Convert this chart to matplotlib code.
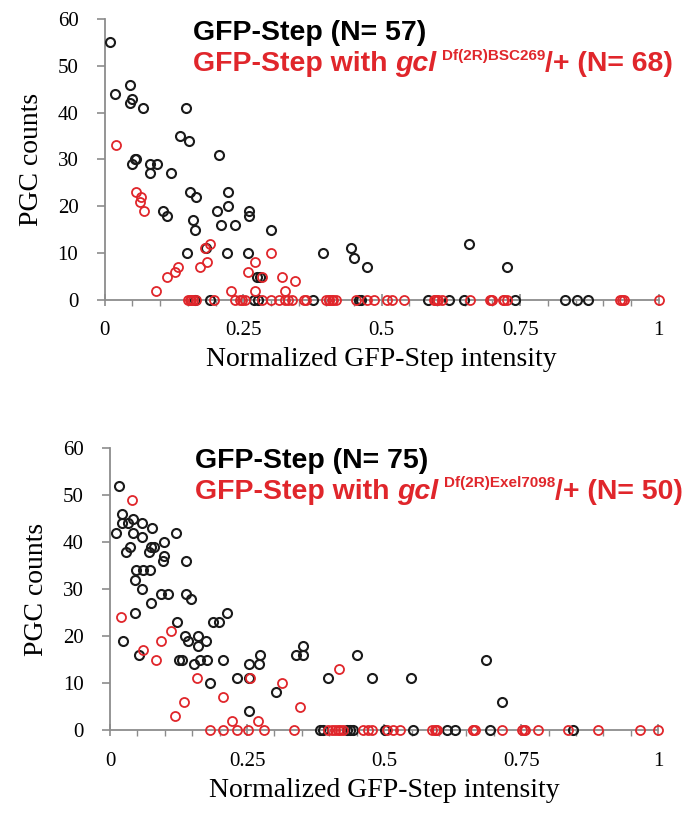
import numpy as np
import matplotlib
matplotlib.use("Agg")
import matplotlib.pyplot as plt
from matplotlib.ticker import MultipleLocator

# ---- data ----
# top panel: GFP-Step (black) and GFP-Step with gcl Df(2R)BSC269/+ (red)
top_black_x = [0.009, 0.018, 0.045, 0.049, 0.045, 0.069, 0.147, 0.136, 0.152, 0.207,
               0.054, 0.056, 0.050, 0.082, 0.094, 0.082, 0.120, 0.154, 0.165, 0.223,
               0.223, 0.203, 0.105, 0.113, 0.160, 0.163, 0.210, 0.236, 0.261, 0.261,
               0.300, 0.149, 0.183, 0.220, 0.258, 0.394, 0.445, 0.450, 0.474, 0.657,
               0.726, 0.280, 0.275,
               0.163, 0.190, 0.269, 0.276, 0.376, 0.459, 0.463, 0.584, 0.622, 0.648,
               0.740, 0.831, 0.853, 0.873]
top_black_y = [55, 44, 46, 43, 42, 41, 41, 35, 34, 31,
               30, 30, 29, 29, 29, 27, 27, 23, 22, 23,
               20, 19, 19, 18, 17, 15, 16, 16, 19, 18,
               15, 10, 11, 10, 10, 10, 11, 9, 7, 12,
               7, 5, 5,
               0, 0, 0, 0, 0, 0, 0, 0, 0, 0,
               0, 0, 0, 0]
top_red_x = [0.020, 0.056, 0.065, 0.064, 0.071, 0.190, 0.181, 0.300, 0.132, 0.127,
             0.113, 0.172, 0.185, 0.258, 0.272, 0.320, 0.343, 0.093, 0.227, 0.272,
             0.325, 0.283,
             0.150, 0.155, 0.165, 0.197, 0.236, 0.247, 0.254, 0.283, 0.301, 0.314,
             0.325, 0.338, 0.363, 0.399, 0.405, 0.410, 0.417, 0.454, 0.474, 0.486,
             0.510, 0.519, 0.541, 0.595, 0.600, 0.608, 0.659, 0.695, 0.700, 0.719,
             0.726, 0.931, 0.937, 1.000, 0.160, 0.404, 0.412, 0.602, 0.596, 0.720,
             0.153, 0.245, 0.330, 0.698, 0.360, 0.934]
top_red_y = [33, 23, 22, 21, 19, 12, 11, 10, 7, 6,
             5, 7, 8, 6, 8, 5, 4, 2, 2, 2,
             2, 5] + [0] * 46

# bottom panel: GFP-Step (black) and GFP-Step with gcl Df(2R)Exel7098/+ (red)
bot_black_x = [0.017, 0.022, 0.011, 0.021, 0.033, 0.042, 0.042, 0.058, 0.077, 0.058,
               0.120, 0.036, 0.030, 0.099, 0.075, 0.080, 0.071, 0.099, 0.097, 0.139,
               0.047, 0.060, 0.073, 0.046, 0.058, 0.093, 0.106, 0.139, 0.148, 0.075,
               0.046, 0.213,
               0.024, 0.053, 0.122, 0.188, 0.199, 0.137, 0.142, 0.161, 0.161, 0.175,
               0.126, 0.131, 0.164, 0.177, 0.206, 0.153, 0.182, 0.231, 0.254, 0.254,
               0.272, 0.274, 0.303, 0.339, 0.352, 0.352, 0.398, 0.254,
               0.450, 0.478, 0.549, 0.686, 0.715,
               0.383, 0.389, 0.432, 0.438, 0.443, 0.502, 0.553, 0.615, 0.630, 0.693,
               0.845]
bot_black_y = [52, 46, 42, 44, 44, 45, 42, 44, 43, 41,
               42, 39, 38, 40, 39, 39, 38, 37, 36, 36,
               34, 34, 34, 32, 30, 29, 29, 29, 28, 27,
               25, 25,
               19, 16, 23, 23, 23, 20, 19, 20, 18, 19,
               15, 15, 15, 15, 15, 14, 10, 11, 11, 14,
               14, 16, 8, 16, 16, 18, 11, 4,
               16, 11, 11, 15, 6] + [0] * 11
bot_red_x = [0.040, 0.020, 0.060, 0.084, 0.093, 0.111, 0.158, 0.256, 0.313, 0.418,
             0.206, 0.135, 0.119, 0.222, 0.270, 0.347,
             0.182, 0.206, 0.232, 0.252, 0.281, 0.336, 0.398, 0.405, 0.415, 0.462,
             0.478, 0.505, 0.516, 0.529, 0.588, 0.592, 0.597, 0.662, 0.665, 0.715,
             0.752, 0.757, 0.781, 0.836, 0.890, 0.967, 1.000, 0.425, 0.410, 0.420,
             0.594, 0.663, 0.470, 0.755]
bot_red_y = [49, 24, 17, 15, 19, 21, 11, 11, 10, 13,
             7, 6, 3, 2, 2, 5] + [0] * 34

x_ticks = [0, 0.25, 0.5, 0.75, 1]
x_tick_labels = ["0", "0.25", "0.5", "0.75", "1"]
y_ticks = [0, 10, 20, 30, 40, 50, 60]

BLACK = "#1a1a1a"
RED = "#e0262b"
SERIF = "Liberation Serif"
SANS = "Liberation Sans"


def style_axes(ax):
    ax.set_xlim(0, 1)
    ax.set_ylim(0, 60)
    for s in ("top", "right"):
        ax.spines[s].set_visible(False)
    for s in ("left", "bottom"):
        ax.spines[s].set_color("#8c8c8c")
        ax.spines[s].set_linewidth(1.3)
    ax.set_xticks(x_ticks)
    ax.set_xticklabels(x_tick_labels, family=SERIF, fontsize=15)
    ax.xaxis.set_minor_locator(MultipleLocator(0.05))
    ax.set_yticks(y_ticks)
    ax.set_yticklabels([str(v) for v in y_ticks], family=SERIF, fontsize=15)
    ax.tick_params(axis="x", which="major", direction="inout", length=9,
                   color="#8c8c8c", width=1.2, pad=11)
    ax.tick_params(axis="x", which="minor", direction="out", length=4,
                   color="#8c8c8c", width=1.0)
    ax.tick_params(axis="y", direction="out", length=6, color="#8c8c8c",
                   width=1.2, pad=13)
    ax.set_ylabel("PGC counts", family=SERIF, fontsize=20, labelpad=10)
    ax.set_xlabel("Normalized GFP-Step intensity", family=SERIF, fontsize=20,
                  labelpad=5)


def legend_text(ax, fx, fy, n_black, allele, n_red):
    fs = 20.5
    ax.figure.text(fx, fy, "GFP-Step (N= %d)" % n_black, color="black",
                   family=SANS, weight="bold", fontsize=fs)
    t1 = ax.figure.text(fx, fy - 0.037, "GFP-Step with ", color=RED,
                        family=SANS, weight="bold", fontsize=fs)
    t2 = ax.annotate("gcl", xy=(1, 0), xycoords=t1, va="bottom", ha="left",
                     color=RED, family=SANS, weight="bold", style="italic",
                     fontsize=fs, annotation_clip=False)
    t3 = ax.annotate(allele, xy=(1, 0.55), xycoords=t2, xytext=(4, 0),
                     textcoords="offset points", va="bottom", ha="left",
                     color=RED, family=SANS, weight="bold", fontsize=11,
                     annotation_clip=False)
    ax.annotate("/+ (N= %d)" % n_red, xy=(1, 0), xycoords=(t3, t2),
                va="bottom", ha="left", color=RED, family=SANS,
                weight="bold", fontsize=fs, annotation_clip=False)


fig = plt.figure(figsize=(6.94, 8.24), dpi=100)
ax1 = fig.add_axes([0.151, 0.636, 0.798, 0.341])
ax2 = fig.add_axes([0.1585, 0.114, 0.790, 0.342])

for ax, bx, by, rx, ry in ((ax1, top_black_x, top_black_y, top_red_x, top_red_y),
                           (ax2, bot_black_x, bot_black_y, bot_red_x, bot_red_y)):
    ax.plot(bx, by, "o", mfc="none", mec=BLACK, ms=6.5, mew=1.5,
            clip_on=False, zorder=3)
    ax.plot(rx, ry, "o", mfc="none", mec=RED, ms=6.5, mew=1.3,
            clip_on=False, zorder=4)
    style_axes(ax)

legend_text(ax1, 0.278, 0.951, 57, "Df(2R)BSC269", 68)
legend_text(ax2, 0.281, 0.432, 75, "Df(2R)Exel7098", 50)

fig.savefig("out.png", dpi=100)
